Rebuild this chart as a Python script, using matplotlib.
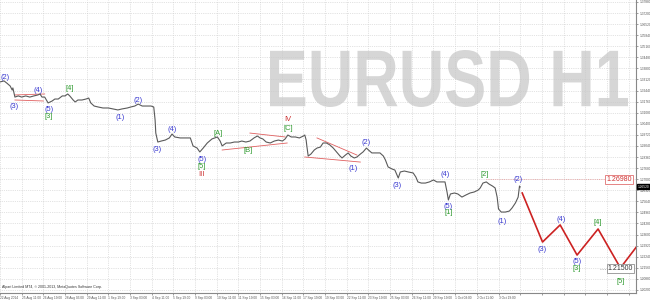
import matplotlib
matplotlib.use('Agg')
import matplotlib.pyplot as plt
import matplotlib.transforms as mtransforms
from matplotlib.textpath import TextPath
from matplotlib.patches import PathPatch
from matplotlib.font_manager import FontProperties
from matplotlib.path import Path

plt.rcParams['font.family'] = ['Liberation Sans', 'DejaVu Sans']

# H1 bars (bar index from 22 Aug 2014) and closing prices
bars = [0, 6, 10, 15, 18, 19, 22, 27, 32, 38, 44, 50, 56, 59, 62, 66, 71, 77, 81, 86,
        92, 96, 100, 103, 108, 111, 115, 121, 127, 131, 134, 139, 145, 152, 160, 167, 174, 180, 188, 193,
        199, 204, 210, 217, 223, 227, 229, 230, 233, 238, 244, 250, 254, 258, 266, 273, 281, 285, 291, 295,
        300, 306, 313, 321, 325, 328, 334, 340, 346, 352, 357, 363, 369, 375, 380, 384, 388, 393, 399, 405,
        411, 417, 421, 425, 430, 436, 442, 448, 450, 452, 453, 455, 459, 464, 468, 473, 477, 482, 487, 492,
        498, 502, 505, 510, 514, 518, 523, 527, 532, 536, 541, 544, 549, 555, 561, 566, 569, 573, 579, 583,
        588, 591, 597, 603, 610, 614, 617, 622, 628, 634, 640, 645, 651, 657, 660, 662, 665, 671, 676, 682,
        688, 694, 700, 706, 709, 713, 718, 722, 727, 731, 734, 736, 740, 746, 752, 756, 761, 765, 767, 768]
closes = [1.3297, 1.3303, 1.3290, 1.3272, 1.3247, 1.3260, 1.3204, 1.3211, 1.3204, 1.3211,
          1.3204, 1.3211, 1.3217, 1.3223, 1.3204, 1.3204, 1.3168, 1.3180, 1.3192, 1.3192,
          1.3211, 1.3211, 1.3223, 1.3211, 1.3186, 1.3174, 1.3186, 1.3186, 1.3192, 1.3198,
          1.3168, 1.3149, 1.3143, 1.3137, 1.3137, 1.3131, 1.3125, 1.3131, 1.3137, 1.3143,
          1.3149, 1.3161, 1.3149, 1.3149, 1.3149, 1.3143, 1.3063, 1.2983, 1.2928, 1.2934,
          1.2940, 1.2953, 1.2977, 1.2959, 1.2953, 1.2953, 1.2953, 1.2904, 1.2891, 1.2867,
          1.2891, 1.2922, 1.2947, 1.2959, 1.2934, 1.2904, 1.2922, 1.2922, 1.2928, 1.2928,
          1.2934, 1.2928, 1.2934, 1.2953, 1.2965, 1.2953, 1.2947, 1.2928, 1.2922, 1.2934,
          1.2940, 1.2934, 1.2947, 1.2971, 1.2959, 1.2959, 1.2953, 1.2965, 1.2971, 1.2940,
          1.2904, 1.2842, 1.2854, 1.2879, 1.2891, 1.2897, 1.2922, 1.2922, 1.2910, 1.2891,
          1.2861, 1.2842, 1.2830, 1.2848, 1.2861, 1.2842, 1.2830, 1.2836, 1.2854, 1.2867,
          1.2891, 1.2879, 1.2861, 1.2861, 1.2861, 1.2842, 1.2818, 1.2775, 1.2762, 1.2756,
          1.2707, 1.2744, 1.2750, 1.2744, 1.2738, 1.2713, 1.2683, 1.2676, 1.2676, 1.2683,
          1.2695, 1.2683, 1.2683, 1.2683, 1.2621, 1.2572, 1.2609, 1.2615, 1.2609, 1.2590,
          1.2603, 1.2615, 1.2621, 1.2633, 1.2646, 1.2676, 1.2683, 1.2670, 1.2658, 1.2646,
          1.2590, 1.2517, 1.2498, 1.2498, 1.2504, 1.2523, 1.2554, 1.2590, 1.2658, 1.2652]

# projected wave path
proj_bars = [771, 801, 827, 852, 883, 916, 953]
proj_prices = [1.2615, 1.2314, 1.2419, 1.2234, 1.2394, 1.2155, 1.2357]

# wave labels: text, bar, price, kind
wave_text = ['(2)', '(3)', '(4)', '(5)', '[3]', '[4]', '(1)', '(2)', '(3)', '(4)', '(5)', '[5]', 'III',
             '[A]', '[B]', '[C]', 'IV', '(1)', '(2)', '(3)', '(4)', '(5)', '[1]', '[2]', '(1)', '(2)',
             '(3)', '(4)', '(5)', '[3]', '[4]', '[5]']
wave_bar = [7, 21, 56, 72, 72, 103, 177, 204, 232, 254, 298, 298, 298,
            322, 366, 425, 425, 521, 541, 586, 657, 662, 662, 716, 741, 765,
            801, 829, 852, 852, 882, 917]
wave_price = [1.3327, 1.3149, 1.3247, 1.3125, 1.3082, 1.3254, 1.3076, 1.3186, 1.2885, 1.3002, 1.2818, 1.2775, 1.2726,
              1.2983, 1.2879, 1.3014, 1.3069, 1.2768, 1.2922, 1.2658, 1.2726, 1.2535, 1.2498, 1.2726, 1.2443, 1.2695,
              1.2271, 1.2455, 1.2197, 1.2154, 1.2431, 1.2069]
wave_kind = ['b', 'b', 'b', 'b', 'g', 'g', 'b', 'b', 'b', 'b', 'b', 'g', 'r',
             'g', 'g', 'g', 'r', 'b', 'b', 'b', 'b', 'b', 'g', 'g', 'b', 'b',
             'b', 'b', 'b', 'g', 'g', 'g']

# red trendlines: (bar0, price0, bar1, price1)
trend_lines = [(22, 1.3217, 66, 1.3223), (22, 1.3186, 64, 1.3180),
               (369, 1.2983, 421, 1.2959), (328, 1.2879, 424, 1.2922),
               (468, 1.2953, 527, 1.2848), (450, 1.2836, 532, 1.2805)]

level_high = 1.26980
level_low = 1.21500
level_high_start = 718

x_labels = ['22 Aug 2014', '25 Aug 11:00', '26 Aug 19:00', '28 Aug 03:00', '29 Aug 11:00',
            '1 Sep 19:00', '3 Sep 03:00', '4 Sep 11:00', '5 Sep 19:00', '9 Sep 03:00',
            '10 Sep 11:00', '11 Sep 19:00', '15 Sep 03:00', '16 Sep 11:00', '17 Sep 19:00',
            '19 Sep 03:00', '22 Sep 11:00', '23 Sep 19:00', '25 Sep 03:00', '26 Sep 11:00',
            '29 Sep 19:00', '1 Oct 03:00', '2 Oct 11:00', '3 Oct 19:00']
y_ticks = [1.37880, 1.37200, 1.36520, 1.35840, 1.35160, 1.34480, 1.33800, 1.33120, 1.32440,
           1.31760, 1.31080, 1.30400, 1.29720, 1.29040, 1.28360, 1.27680, 1.27000, 1.26320,
           1.25640, 1.24960, 1.24280, 1.23600, 1.22920, 1.22240, 1.21560, 1.20880, 1.20200]

colors = {'b': '#3a3ad0', 'g': '#2f9a2f', 'r': '#cc3030'}

fig = plt.figure(figsize=(6.5, 3.0), dpi=100, facecolor='white')
ax = fig.add_axes([0.0, 7 / 300, 636 / 650, 293 / 300])
ax.patch.set_visible(False)

# big watermark fitted into its box
fp = FontProperties(family='Liberation Sans', weight='bold')
tp = TextPath((0, 0), 'EURUSD H1', size=1, prop=fp)
ext = tp.get_extents()
x0, x1 = 270 / 650, 628 / 650
y0, y1 = (300 - 107) / 300, (300 - 50) / 300
verts = tp.vertices.copy()
verts[:, 0] = x0 + (verts[:, 0] - ext.x0) / ext.width * (x1 - x0)
verts[:, 1] = y0 + (verts[:, 1] - ext.y0) / ext.height * (y1 - y0)
fig.add_artist(PathPatch(Path(verts, tp.codes), transform=fig.transFigure,
                         fc='#d6d6d6', ec='none', zorder=-1))

ax.set_xlim(0, 939)
ax.set_ylim(1.2001, 1.3800)

# price
ax.plot(bars, closes, color='#5a5a5a', lw=0.8, zorder=3)
# projection
ax.plot(proj_bars, proj_prices, color='#cc2222', lw=1.2, zorder=3)

for b0, p0, b1, p1 in trend_lines:
    ax.plot([b0, b1], [p0, p1], color='#e06060', lw=0.6, zorder=2)

# levels
ax.plot([level_high_start, 892], [level_high, level_high], color='#e89090', lw=0.6, ls=':', zorder=2)
ax.plot([886, 898], [level_low, level_low], color='#999999', lw=0.6, ls=':', zorder=2)
ax.text(914, level_high, '%.5f' % level_high, color='#d03030', fontsize=5.0, ha='center', va='center',
        bbox=dict(boxstyle='square,pad=0.15', fc='white', ec='#e07070', lw=0.6), zorder=5)
ax.text(916, level_low, '%.5f' % level_low, color='#333333', fontsize=5.0, ha='center', va='center',
        bbox=dict(boxstyle='square,pad=0.15', fc='white', ec='#909090', lw=0.6), zorder=5)

for t, b, p, k in zip(wave_text, wave_bar, wave_price, wave_kind):
    ax.text(b, p, t, color=colors[k], fontsize=5.4, ha='center', va='center', zorder=4)

# axes style
ax.set_yticks(y_ticks)
ax.set_yticklabels(['%.5f' % v for v in y_ticks])
ax.yaxis.tick_right()
xt = list(range(0, 939, 32))
ax.set_xticks(xt)
ax.set_xticklabels(x_labels + [''] * (len(xt) - len(x_labels)))
plt.setp(ax.get_xticklabels(), ha='left')
ax.tick_params(axis='both', labelsize=2.3, colors='#555555', length=1.5, width=0.4, pad=0.8)
ax.grid(True, ls=':', color='#c8c8c8', lw=0.5)
for s in ['top', 'left']:
    ax.spines[s].set_visible(False)
for s in ['bottom', 'right']:
    ax.spines[s].set_color('#888888')
    ax.spines[s].set_linewidth(0.8)

# current price tag on the right scale
tag_tr = mtransforms.blended_transform_factory(ax.transAxes, ax.transData)
ax.text(1.003, closes[-1], '%.5f' % closes[-1], transform=tag_tr, color='white', fontsize=2.3,
        ha='left', va='center', clip_on=False,
        bbox=dict(boxstyle='square,pad=0.15', fc='black', ec='black'))

ax.text(3, 1.2040, 'Alpari Limited MT4, \u00a9 2001-2013, MetaQuotes Software Corp.', fontsize=2.6,
        color='#333333', ha='left', va='center')

fig.savefig('out.png', dpi=100)
